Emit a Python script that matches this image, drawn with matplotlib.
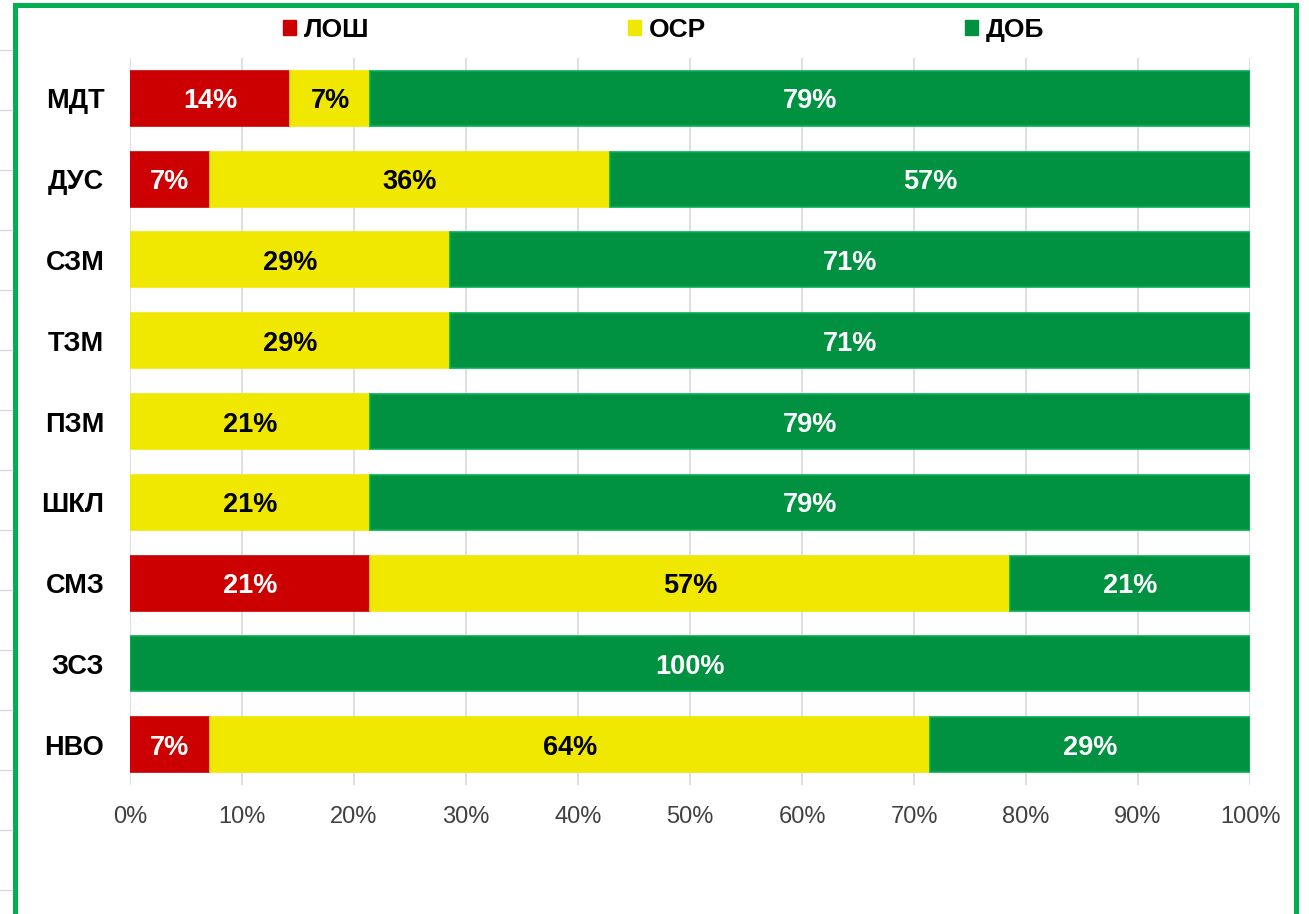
import matplotlib.pyplot as plt
from matplotlib.patches import Rectangle
from matplotlib.lines import Line2D

plt.rcParams['font.family'] = ['Liberation Sans', 'DejaVu Sans']

# data (share of 14 items, %)
categories = ['МДТ', 'ДУС', 'СЗМ', 'ТЗМ', 'ПЗМ', 'ШКЛ', 'СМЗ', 'ЗСЗ', 'НВО']
losh = [14.29, 7.14, 0, 0, 0, 0, 21.43, 0, 7.14]
osr = [7.14, 35.71, 28.57, 28.57, 21.43, 21.43, 57.14, 0, 64.29]
dob = [78.57, 57.14, 71.43, 71.43, 78.57, 78.57, 21.43, 100.0, 28.57]

series = [
    ('ЛОШ', losh, '#CC0000', '#CC0000', 'white'),
    ('ОСР', osr, '#F0E800', '#F0E800', 'black'),
    ('ДОБ', dob, '#009141', '#00B050', 'white'),
]

W, H = 1309, 914
fig = plt.figure(figsize=(W / 100, H / 100), dpi=100)
ax = fig.add_axes([130 / W, (H - 785) / H, 1120 / W, 727 / H])

y = list(range(len(categories)))
left = [0] * len(categories)
handles = []
for name, vals, fc, ec, tc in series:
    bars = ax.barh(y, vals, left=left, height=0.68, color=fc,
                   edgecolor=ec, linewidth=1.2, label=name, zorder=3)
    for rect, v in zip(bars, vals):
        if v > 0:
            ax.text(rect.get_x() + rect.get_width() / 2,
                    rect.get_y() + rect.get_height() / 2,
                    f'{round(v)}%', ha='center', va='center_baseline',
                    color=tc, fontsize=19.5, fontweight='bold', zorder=4)
    left = [a + b for a, b in zip(left, vals)]
    handles.append(Rectangle((0, 0), 1, 1, color=fc))

ax.set_xlim(0, 100)
ax.set_ylim(len(categories) - 0.5, -0.5)
ax.set_yticks(y)
ax.set_yticklabels(categories, fontsize=19.5, fontweight='bold')
ax.set_xticks(range(0, 101, 10))
ax.set_xticklabels([f'{t}%' for t in range(0, 101, 10)], fontsize=17,
                   color='#404040')
ax.tick_params(axis='both', length=0)
ax.tick_params(axis='y', pad=18.5)
ax.tick_params(axis='x', pad=15)
ax.grid(axis='x', color='#D9D9D9', linewidth=1.2, zorder=0)
for s in ax.spines.values():
    s.set_visible(False)

fig.legend(handles, [s[0] for s in series], loc='center',
           bbox_to_anchor=(0.507, 1 - 30 / H), ncol=3, frameon=False,
           prop={'size': 19, 'weight': 'bold'}, handlelength=0.5,
           handleheight=0.5, handletextpad=0.3, columnspacing=9.8)

# faint lines from neighbouring sheet at the left edge
for k in range(15):
    yy = 1 - (50 + 60 * k) / H
    fig.add_artist(Line2D([0, 12 / W], [yy, yy], color='#D9D9D9', lw=1))

# green frame
fig.add_artist(Rectangle((14.5 / W, -0.05), 1281 / W, 1.05 - 5.5 / H,
                         transform=fig.transFigure, fill=False,
                         edgecolor='#00B050', linewidth=3.6))

fig.savefig('out.png', dpi=100)
